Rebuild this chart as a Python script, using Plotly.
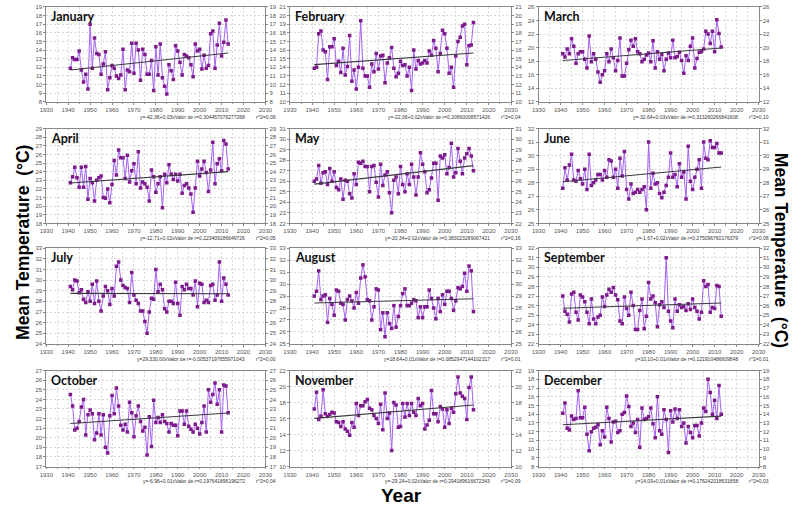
import plotly.graph_objects as go
import numpy as np

years = list(range(1941, 2014))
month_names = ["January", "February", "March", "April", "May", "June",
               "July", "August", "September", "October", "November", "December"]

jan = [11.9, 13.1, 12.9, 12.9, 13.9, 11.7, 10.3, 11.2, 9.5, 17.0,
       11.9, 15.4, 13.6, 13.5, 11.2, 12.4, 13.8, 9.4, 10.8, 12.2,
       11.9, 11.0, 10.7, 11.1, 14.1, 9.4, 11.7, 11.5, 14.8, 11.3,
       14.8, 14.0, 10.5, 14.1, 13.5, 11.2, 11.2, 12.8, 9.3, 14.4,
       11.1, 14.7, 10.8, 9.8, 8.9, 12.3, 11.6, 10.6, 14.5, 13.9,
       12.6, 11.1, 13.5, 13.3, 13.1, 12.3, 10.9, 14.7, 13.9, 14.1,
       11.8, 13.4, 11.9, 12.2, 15.9, 16.2, 11.9, 14.6, 17.1, 13.3,
       14.9, 17.5, 14.7]
feb = [13.9, 14.0, 17.9, 18.2, 16.0, 15.8, 12.6, 16.4, 16.4, 17.3,
       14.2, 14.7, 13.4, 16.2, 13.1, 14.1, 17.7, 12.4, 13.7, 11.5,
       14.0, 19.4, 13.9, 13.0, 13.0, 11.7, 14.4, 13.5, 15.6, 13.8,
       15.3, 15.4, 12.2, 14.5, 15.1, 16.3, 13.9, 12.9, 13.3, 14.7,
       14.2, 14.3, 13.0, 14.0, 11.3, 16.0, 13.8, 14.8, 14.4, 14.5,
       14.8, 14.5, 15.9, 15.4, 17.1, 16.2, 13.5, 15.6, 18.3, 17.9,
       16.2, 13.3, 14.0, 11.7, 15.3, 17.0, 17.5, 18.8, 19.0, 14.3,
       16.5, 16.6, 19.2]
mar = [19.1, 18.6, 19.8, 19.1, 21.3, 20.2, 17.7, 19.1, 19.4, 19.4,
       18.3, 17.0, 21.7, 17.9, 19.1, 18.3, 16.4, 14.9, 16.0, 16.6,
       19.1, 17.9, 19.8, 18.5, 16.6, 18.1, 21.4, 15.8, 15.8, 17.7,
       19.7, 21.1, 20.2, 21.3, 19.4, 19.1, 17.9, 18.3, 18.9, 19.2,
       17.9, 21.0, 17.0, 19.4, 18.3, 19.0, 16.6, 18.3, 19.2, 18.5,
       21.1, 18.5, 18.7, 19.3, 18.1, 16.2, 18.8, 18.1, 20.2, 21.4,
       17.0, 18.4, 19.3, 19.4, 19.8, 22.4, 22.0, 20.6, 22.4, 19.4,
       24.1, 22.1, 20.1]
apr = [22.7, 23.4, 24.5, 23.3, 22.2, 24.5, 22.2, 24.6, 20.8, 23.2,
       22.7, 20.6, 23.0, 23.3, 23.5, 21.0, 20.9, 22.0, 20.4, 22.5,
       25.3, 23.6, 26.5, 25.6, 25.6, 23.2, 25.9, 22.8, 24.1, 24.9,
       22.6, 26.3, 22.1, 22.8, 22.6, 22.2, 20.6, 24.2, 23.4, 21.6,
       22.6, 23.4, 19.8, 23.7, 22.7, 24.8, 23.7, 23.1, 23.7, 22.9,
       23.7, 21.5, 22.4, 22.6, 22.1, 21.4, 19.3, 22.1, 25.2, 23.5,
       24.3, 25.2, 23.9, 21.7, 24.2, 27.4, 22.6, 24.9, 25.5, 24.1,
       27.6, 27.2, 24.3]
may = [26.0, 26.2, 27.5, 25.8, 26.8, 26.9, 25.7, 27.2, 26.0, 26.9,
       25.4, 25.2, 26.2, 24.3, 26.1, 26.0, 24.8, 24.4, 26.7, 25.7,
       27.8, 27.7, 27.9, 27.4, 27.4, 25.0, 27.4, 27.5, 25.9, 24.5,
       27.6, 25.6, 26.6, 26.9, 24.9, 23.0, 26.1, 26.4, 24.8, 27.4,
       25.7, 25.0, 26.7, 25.7, 27.6, 26.4, 24.7, 26.4, 28.7, 27.6,
       26.9, 24.9, 25.2, 26.3, 27.7, 27.7, 24.2, 28.4, 28.2, 28.5,
       26.7, 27.3, 29.6, 26.4, 26.8, 29.1, 27.9, 26.7, 28.2, 28.6,
       29.1, 28.4, 27.0]
jun = [27.6, 29.1, 28.2, 29.3, 30.1, 28.2, 28.1, 28.9, 28.3, 27.9,
       29.0, 27.5, 30.1, 27.8, 28.0, 28.2, 28.6, 28.6, 28.2, 28.9,
       28.4, 29.7, 29.6, 28.4, 29.0, 27.6, 29.8, 28.5, 30.3, 27.5,
       26.8, 27.9, 27.2, 27.3, 27.5, 27.3, 27.5, 27.7, 26.0, 31.0,
       27.6, 28.7, 27.9, 28.0, 27.2, 26.9, 27.3, 27.8, 28.4, 30.2,
       28.4, 28.6, 27.7, 29.4, 28.4, 28.8, 26.8, 30.7, 28.1, 27.5,
       28.4, 29.0, 29.7, 27.6, 31.0, 29.8, 29.7, 31.1, 30.6, 30.6,
       30.9, 30.2, 30.2]
jul = [29.4, 29.1, 30.0, 29.9, 28.8, 29.1, 28.2, 27.9, 28.9, 28.0,
       29.6, 27.8, 29.9, 28.0, 27.1, 28.5, 29.4, 29.0, 27.7, 29.2,
       28.5, 31.3, 31.7, 30.0, 29.5, 29.3, 29.2, 27.9, 30.7, 28.6,
       28.1, 27.8, 27.1, 27.1, 26.1, 25.0, 27.0, 28.3, 28.2, 31.0,
       28.9, 29.6, 29.1, 27.3, 27.0, 28.0, 28.0, 27.8, 29.8, 27.8,
       26.7, 29.4, 29.1, 29.6, 29.2, 29.2, 28.6, 29.9, 27.5, 29.7,
       29.6, 27.9, 28.1, 27.9, 29.5, 29.6, 28.1, 28.6, 31.7, 28.0,
       30.2, 29.6, 28.6]
aug = [29.0, 29.4, 31.1, 28.7, 29.0, 29.1, 26.8, 28.8, 28.3, 27.4,
       29.5, 29.4, 28.4, 28.3, 27.0, 28.7, 29.0, 28.6, 28.0, 29.3,
       28.4, 30.5, 31.6, 30.6, 28.7, 28.6, 27.0, 28.1, 29.6, 29.5,
       26.2, 27.6, 25.6, 27.6, 26.7, 26.3, 28.2, 26.4, 27.3, 28.2,
       29.2, 29.6, 28.2, 28.2, 28.4, 28.7, 28.6, 27.2, 28.1, 27.2,
       28.1, 28.1, 29.5, 28.8, 28.0, 27.1, 28.8, 27.7, 29.1, 28.3,
       29.4, 29.4, 28.8, 27.8, 28.6, 29.7, 29.6, 29.8, 30.9, 29.4,
       31.5, 31.1, 27.7]
sep = [27.0, 25.4, 25.1, 24.3, 27.2, 27.4, 25.3, 24.5, 27.1, 26.9,
       26.4, 25.3, 24.1, 26.7, 24.6, 24.1, 24.8, 25.0, 26.9, 25.9,
       27.1, 27.7, 27.4, 27.9, 27.1, 26.6, 24.4, 24.1, 26.9, 25.7,
       25.0, 27.4, 26.0, 23.5, 23.5, 25.5, 26.7, 23.6, 24.9, 28.4,
       26.7, 27.0, 26.3, 23.8, 26.1, 26.4, 25.8, 31.0, 25.4, 24.4,
       23.7, 26.7, 25.4, 26.1, 25.8, 25.9, 25.5, 26.2, 25.6, 26.7,
       25.8, 25.4, 24.6, 25.3, 28.6, 28.0, 28.2, 25.3, 25.8, 25.7,
       28.1, 28.0, 24.9]
oct_ = [24.5, 23.3, 20.8, 21.0, 21.7, 23.2, 24.0, 20.3, 22.4, 22.9,
        22.5, 19.8, 20.5, 22.5, 20.3, 22.4, 19.0, 18.4, 22.3, 24.4,
        22.5, 25.2, 23.3, 21.3, 20.8, 21.4, 20.6, 23.7, 22.6, 20.1,
        22.3, 23.3, 21.7, 20.7, 21.1, 18.2, 22.2, 19.1, 23.9, 21.6,
        22.1, 21.6, 22.4, 21.7, 21.5, 20.6, 21.5, 21.3, 21.3, 20.2,
        22.8, 22.8, 21.4, 22.8, 21.2, 20.9, 20.6, 21.4, 21.0, 20.4,
        21.6, 23.3, 20.6, 25.0, 23.7, 24.5, 25.7, 23.5, 25.0, 20.6,
        25.5, 25.4, 22.6]
nov = [17.2, 19.3, 15.9, 16.3, 19.6, 16.6, 16.3, 16.5, 16.8, 16.7,
       15.6, 15.5, 15.0, 15.6, 14.7, 14.4, 13.9, 15.5, 14.9, 17.9,
       16.4, 17.6, 17.6, 18.1, 18.4, 17.3, 17.1, 16.4, 16.0, 15.4,
       17.8, 14.6, 19.2, 16.0, 16.7, 12.0, 18.0, 17.7, 14.9, 15.0,
       17.9, 16.2, 17.9, 16.4, 17.9, 16.8, 16.4, 18.5, 17.6, 17.9,
       14.7, 15.2, 15.8, 19.5, 16.6, 16.6, 15.6, 17.5, 17.2, 14.9,
       17.1, 15.4, 17.3, 16.8, 19.1, 21.2, 19.2, 18.8, 18.5, 15.9,
       19.9, 21.2, 17.1]
dec = [14.1, 15.3, 12.4, 12.2, 13.8, 13.4, 13.5, 16.7, 13.6, 13.6,
       14.8, 11.7, 9.8, 12.0, 12.4, 12.5, 12.8, 10.5, 12.1, 11.4,
       14.8, 13.5, 10.8, 13.1, 13.2, 11.9, 12.1, 14.0, 14.2, 16.1,
       14.9, 12.6, 13.0, 11.9, 13.4, 10.2, 14.7, 13.4, 13.5, 13.7,
       14.7, 12.9, 11.3, 16.0, 12.1, 11.7, 14.5, 13.4, 9.6, 14.4,
       13.1, 14.6, 13.5, 14.5, 12.6, 13.0, 10.7, 12.6, 11.9, 11.3,
       12.7, 12.7, 11.5, 13.0, 14.7, 14.3, 18.0, 16.5, 14.0, 15.6,
       13.5, 17.3, 14.0]

series = [jan, feb, mar, apr, may, jun, jul, aug, sep, oct_, nov, dec]

y_ranges = [(8, 19), (10, 21), (12, 26), (18, 29), (22, 31), (25, 32),
            (24, 33), (25, 33), (22, 32), (17, 27), (10, 22), (8, 19)]
y_dticks = [1, 1, 2, 1, 1, 1, 1, 1, 1, 1, 2, 1]
x_ticks = list(range(1930, 2031, 10))

eq_texts = [
    "y=-42,36+0,03xValor de r=0,304457076277268",
    "y=-22,06+0,02xValor de r=0,20660008571426",
    "y=-32,64+0,03xValor de r=0,313260266841608",
    "y=-12,71+0,02xValor de r=0,223409186649726",
    "y=-20,34+0,02xValor de r=0,383023289067421",
    "y=-1,67+0,02xValor de r=0,275096760176379",
    "y=29,330,00xValor de r=-0,00537197655971043",
    "y=18,64+0,01xValor de r=0,0852947144102317",
    "y=10,10+0,01xValor de r=0,121910486609848",
    "y=-6,96+0,01xValor de r=0,197641896196272",
    "y=-29,24+0,02xValor de r=0,294189616672343",
    "y=14,09+0,01xValor de r=0,176242018631858",
]
r2_texts = ["r^2=0,09", "r^2=0,04", "r^2=0,10", "r^2=0,05", "r^2=0,16", "r^2=0,08",
            "r^2=0,00", "r^2=0,01", "r^2=0,01", "r^2=0,04", "r^2=0,09", "r^2=0,03"]

W, H = 802, 513
cols = [(40, 263), (288, 513), (541, 765)]
rows = [(4, 100), (127, 223), (248, 345), (372, 469)]

LINE_COLOR = "#a461f2"
MARK_COLOR = "#7d1a8c"
GRID = "#d9d9d9"
TICKFONT = dict(family="Liberation Sans, Arial", size=6, color="#555")

fig = go.Figure()
annotations = []

def px_x(v):
    return v / W

def px_y(v):
    return 1 - v / H

for i in range(12):
    r, c = divmod(i, 3)
    k = i + 1
    L, R = cols[c]
    T, B = rows[r]
    xname = "x" if k == 1 else f"x{k}"
    yname = "y" if k == 1 else f"y{k}"
    y2name = f"y{k + 12}"
    vals = series[i]

    fig.add_trace(go.Scatter(
        x=years, y=vals, xaxis=xname, yaxis=yname, mode="lines+markers",
        line=dict(color=LINE_COLOR, width=1),
        marker=dict(color=MARK_COLOR, size=3.5, symbol="square"),
        showlegend=False, hoverinfo="x+y"))

    slope, icpt = np.polyfit(years, vals, 1)
    tx = [years[0], years[-1]]
    fig.add_trace(go.Scatter(
        x=tx, y=[icpt + slope * t for t in tx], xaxis=xname, yaxis=yname,
        mode="lines", line=dict(color="#3a3a3a", width=1.1),
        showlegend=False, hoverinfo="skip"))

    fig.add_trace(go.Scatter(
        x=[years[0]], y=[vals[0]], xaxis=xname, yaxis=y2name, mode="markers",
        marker=dict(opacity=0), showlegend=False, hoverinfo="skip"))

    lo, hi = y_ranges[i]
    xkey = "xaxis" if k == 1 else f"xaxis{k}"
    ykey = "yaxis" if k == 1 else f"yaxis{k}"
    fig.layout[xkey] = dict(
        domain=[px_x(L), px_x(R)], anchor=yname, range=[1930, 2030],
        tickvals=x_ticks, tickfont=TICKFONT, showgrid=True, gridcolor=GRID,
        griddash="2px,2px", gridwidth=0.6, zeroline=False,
        showline=True, linecolor="#888", linewidth=0.8, mirror=True,
        ticks="outside", ticklen=2, tickcolor="#888",
        minor=dict(dtick=5, tick0=1930, showgrid=True, gridcolor=GRID,
                   griddash="2px,2px", gridwidth=0.6, ticks="outside", ticklen=1.5,
                   tickcolor="#999"),
        fixedrange=True)
    fig.layout[ykey] = dict(
        domain=[px_y(B), px_y(T)], anchor=xname, range=[lo, hi],
        dtick=y_dticks[i], tick0=lo, tickfont=TICKFONT, showgrid=True,
        gridcolor=GRID, griddash="2px,2px", gridwidth=0.6, zeroline=False,
        showline=True, linecolor="#888", linewidth=0.8,
        ticks="outside", ticklen=2, tickcolor="#888", fixedrange=True)
    fig.layout[f"yaxis{k + 12}"] = dict(
        overlaying=yname, side="right", anchor=xname, range=[lo, hi],
        dtick=y_dticks[i], tick0=lo, tickfont=TICKFONT, showgrid=False,
        zeroline=False, showline=True, linecolor="#888", linewidth=0.8,
        ticks="outside", ticklen=2, tickcolor="#888", fixedrange=True)

    annotations.append(dict(
        text=f"<b>{month_names[i]}</b>", x=px_x(L + 3), y=px_y(T + 10),
        xref="paper", yref="paper", xanchor="left", yanchor="middle",
        showarrow=False, font=dict(family="Lato", size=12.5, color="#111")))
    annotations.append(dict(
        text=eq_texts[i], x=px_x(R - 19), y=px_y(B + 15),
        xref="paper", yref="paper", xanchor="right", yanchor="middle",
        showarrow=False, font=dict(family="Liberation Sans, Arial", size=5, color="#333")))
    annotations.append(dict(
        text=r2_texts[i], x=px_x(R - 12), y=px_y(B + 15),
        xref="paper", yref="paper", xanchor="left", yanchor="middle",
        showarrow=False, font=dict(family="Liberation Sans, Arial", size=5, color="#333")))

big_font = dict(family="Liberation Sans, Arial", size=17.5, color="#000")
annotations.append(dict(text="<b>Mean Temperature  (°C)</b>", x=px_x(16), y=px_y(242),
                        xref="paper", yref="paper", textangle=-90, showarrow=False,
                        xanchor="center", yanchor="middle", font=big_font))
annotations.append(dict(text="<b>Mean Temperature  (°C)</b>", x=px_x(788), y=px_y(250),
                        xref="paper", yref="paper", textangle=90, showarrow=False,
                        xanchor="center", yanchor="middle", font=big_font))
annotations.append(dict(text="<b>Year</b>", x=px_x(401), y=px_y(498),
                        xref="paper", yref="paper", showarrow=False,
                        xanchor="center", yanchor="middle",
                        font=dict(family="Liberation Sans, Arial", size=19, color="#000")))

fig.update_layout(width=W, height=H, margin=dict(l=0, r=0, t=0, b=0),
                  paper_bgcolor="white", plot_bgcolor="white",
                  annotations=annotations, showlegend=False)

fig.write_html("out.html", config={"displayModeBar": False},
               post_script="document.body.style.margin='0';document.body.style.padding='0';")
